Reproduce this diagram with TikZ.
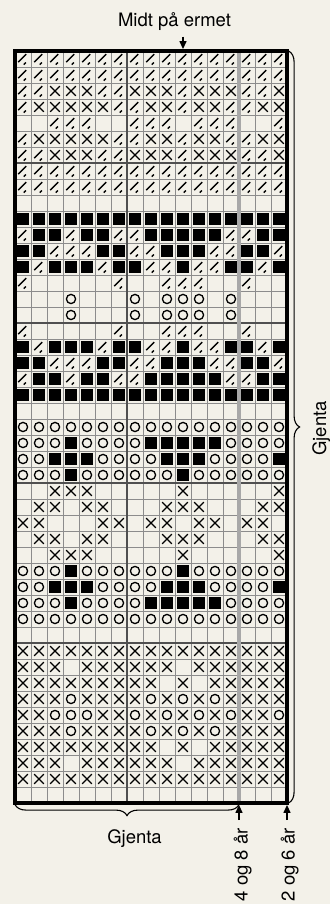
\documentclass[tikz,border=0pt]{standalone}
\usepackage{fontspec}
\setmainfont{TeX Gyre Heros}
\usepackage{xcolor}
\definecolor{chartBg}{HTML}{F3F1E9}
\definecolor{chartGrid}{HTML}{8C8C8C}
\definecolor{chartTen}{HTML}{505050}
\definecolor{chartSize}{HTML}{A8A8A8}
\usetikzlibrary{arrows.meta,decorations.pathreplacing}
\tikzset{
  chartSym/.style={line width=1.3pt},
  chartLabel/.style={font=\fontsize{18.5}{22}\selectfont, inner sep=0pt},
  chartArrow/.style={-{Triangle[length=8pt,width=7pt]}, line width=1.3pt},
  chartBrace/.style={decorate, decoration={brace, amplitude=11pt}, line width=1.1pt}
}
\newcommand\cellD{\draw[chartSym] (0.2,0.3) -- (0.7,0.8); \draw[chartSym] (0.55,0.15) -- (0.68,0.28);}
\newcommand\cellX{\draw[chartSym] (0.2,0.2) -- (0.8,0.8) (0.2,0.8) -- (0.8,0.2);}
\newcommand\cellO{\draw[chartSym] (0.5,0.5) circle[radius=4.6pt];}
\newcommand\cellB{\fill (0.12,0.12) rectangle (0.88,0.88);}
\newcommand\cellE{}
\newcommand\chartRows{%
{D,D,D,D,D,D,D,D,D,D,D,D,D,D,D,D,D},%
{D,D,D,D,D,D,D,D,D,D,D,D,D,D,D,D,D},%
{D,D,X,X,X,D,D,X,X,X,D,X,X,X,D,D,X},%
{D,X,X,X,X,X,D,D,X,X,D,X,X,D,D,X,X},%
{E,E,D,D,D,E,E,D,D,D,E,D,D,D,E,E,D},%
{D,X,X,X,X,X,D,D,X,X,D,X,X,D,D,X,X},%
{D,D,X,X,X,D,D,X,X,X,D,X,X,X,D,D,X},%
{D,D,D,D,D,D,D,D,D,D,D,D,D,D,D,D,D},%
{D,D,D,D,D,D,D,D,D,D,D,D,D,D,D,D,D},%
{E,E,E,E,E,E,E,E,E,E,E,E,E,E,E,E,E},%
{B,B,B,B,B,B,B,B,B,B,B,B,B,B,B,B,B},%
{D,B,B,D,B,B,D,D,B,B,B,B,B,D,D,B,B},%
{B,B,D,D,D,B,B,D,D,B,B,B,D,D,B,B,D},%
{B,D,B,B,B,D,B,B,D,D,B,D,D,B,B,D,B},%
{D,E,E,E,E,E,D,E,E,D,D,D,E,E,D,E,E},%
{E,E,E,O,E,E,E,O,E,O,O,O,E,O,E,E,E},%
{E,E,E,O,E,E,E,O,E,O,O,O,E,O,E,E,E},%
{D,E,E,E,E,E,D,E,E,D,D,D,E,E,D,E,E},%
{B,D,B,B,B,D,B,B,D,D,B,D,D,B,B,D,B},%
{B,B,D,D,D,B,B,D,D,B,B,B,D,D,B,B,D},%
{D,B,B,D,B,B,D,D,B,B,B,B,B,D,D,B,B},%
{B,B,B,B,B,B,B,B,B,B,B,B,B,B,B,B,B},%
{E,E,E,E,E,E,E,E,E,E,E,E,E,E,E,E,E},%
{O,O,O,O,O,O,O,O,O,O,O,O,O,O,O,O,O},%
{O,O,O,B,O,O,O,O,B,B,B,B,B,O,O,O,O},%
{O,O,B,B,B,O,O,O,O,B,B,B,O,O,O,O,B},%
{O,O,O,B,O,O,O,O,O,O,B,O,O,O,O,O,O},%
{E,E,X,X,X,E,E,E,E,E,X,E,E,E,E,E,X},%
{E,X,X,E,X,X,E,E,E,X,X,X,E,E,E,X,X},%
{X,X,E,E,E,X,X,E,X,X,E,X,X,E,X,X,E},%
{E,X,X,E,X,X,E,E,E,X,X,X,E,E,E,X,X},%
{E,E,X,X,X,E,E,E,E,E,X,E,E,E,E,E,X},%
{O,O,O,B,O,O,O,O,O,O,B,O,O,O,O,O,O},%
{O,O,B,B,B,O,O,O,O,B,B,B,O,O,O,O,B},%
{O,O,O,B,O,O,O,O,B,B,B,B,B,O,O,O,O},%
{O,O,O,O,O,O,O,O,O,O,O,O,O,O,O,O,O},%
{E,E,E,E,E,E,E,E,E,E,E,E,E,E,E,E,E},%
{X,X,X,X,X,X,X,X,X,X,X,X,X,X,X,X,X},%
{X,X,X,E,X,X,X,X,X,X,E,X,X,X,X,X,X},%
{X,X,X,X,X,X,X,X,X,E,X,E,X,X,X,X,X},%
{X,X,X,O,X,X,X,X,O,X,O,X,O,X,X,X,X},%
{X,X,O,O,O,X,X,O,X,O,X,O,X,O,X,X,O},%
{X,X,X,O,X,X,X,X,O,X,O,X,O,X,X,X,X},%
{X,X,X,X,X,X,X,X,X,E,X,E,X,X,X,X,X},%
{X,X,X,E,X,X,X,X,X,X,E,X,X,X,X,X,X},%
{X,X,X,X,X,X,X,X,X,X,X,X,X,X,X,X,X},%
{E,E,E,E,E,E,E,E,E,E,E,E,E,E,E,E,E}%
}

\begin{document}
\begin{tikzpicture}[x=1pt,y=1pt]
  \useasboundingbox (0,0) rectangle (330,904);
  \fill[chartBg] (0,0) rectangle (330,904);
  \begin{scope}[shift={(15pt,101pt)},x=16pt,y=16pt]
    \draw[chartGrid, line width=0.8pt, step=1] (0,0) grid (17,47);
    \draw[chartTen, line width=1.5pt] (7,0) -- (7,47);
    \foreach \h in {10,20,30,40}
      \draw[chartTen, line width=1.5pt] (0,\h) -- (17,\h);
    \draw[chartSize, line width=3.5pt] (14,0) -- (14,47);
    \foreach \row [count=\r] in \chartRows {
      \foreach \c [count=\i] in \row {
        \begin{scope}[shift={(\i-1,47-\r)}]
          \csname cell\c\endcsname
        \end{scope}
      }
    }
    \draw[line width=3.5pt] (0,0) rectangle (17,47);
    \coordinate (midTip) at (10.5,47.12);
    \coordinate (midTail) at (10.5,47.9);
    \coordinate (tip48) at (14,-0.12);
    \coordinate (tail48) at (14,-1.07);
    \coordinate (tip26) at (17,-0.12);
    \coordinate (tail26) at (17,-1.07);
    \coordinate (sideTop) at (17.1,47);
    \coordinate (sideBot) at (17.1,0);
    \coordinate (baseRight) at (14,-0.1);
    \coordinate (baseLeft) at (0,-0.1);
  \end{scope}
  \draw[chartArrow] (midTail) -- (midTip);
  \draw[chartArrow] (tail48) -- (tip48);
  \draw[chartArrow] (tail26) -- (tip26);
  \draw[chartBrace] (sideTop) -- (sideBot);
  \draw[chartBrace] (baseRight) -- (baseLeft);
  \node[chartLabel, anchor=base] (midt) at (174.5,877) {Midt på ermet};
  \node[chartLabel, anchor=base] (gjentaNed) at (134.5,60) {Gjenta};
  \node[chartLabel, anchor=base, rotate=90] (gjentaSide) at (326,475.5) {Gjenta};
  \node[chartLabel, anchor=base east, rotate=90] (str48) at (247.5,76) {4 og 8 år};
  \node[chartLabel, anchor=base east, rotate=90] (str26) at (294.5,76) {2 og 6 år};
\end{tikzpicture}
\end{document}
